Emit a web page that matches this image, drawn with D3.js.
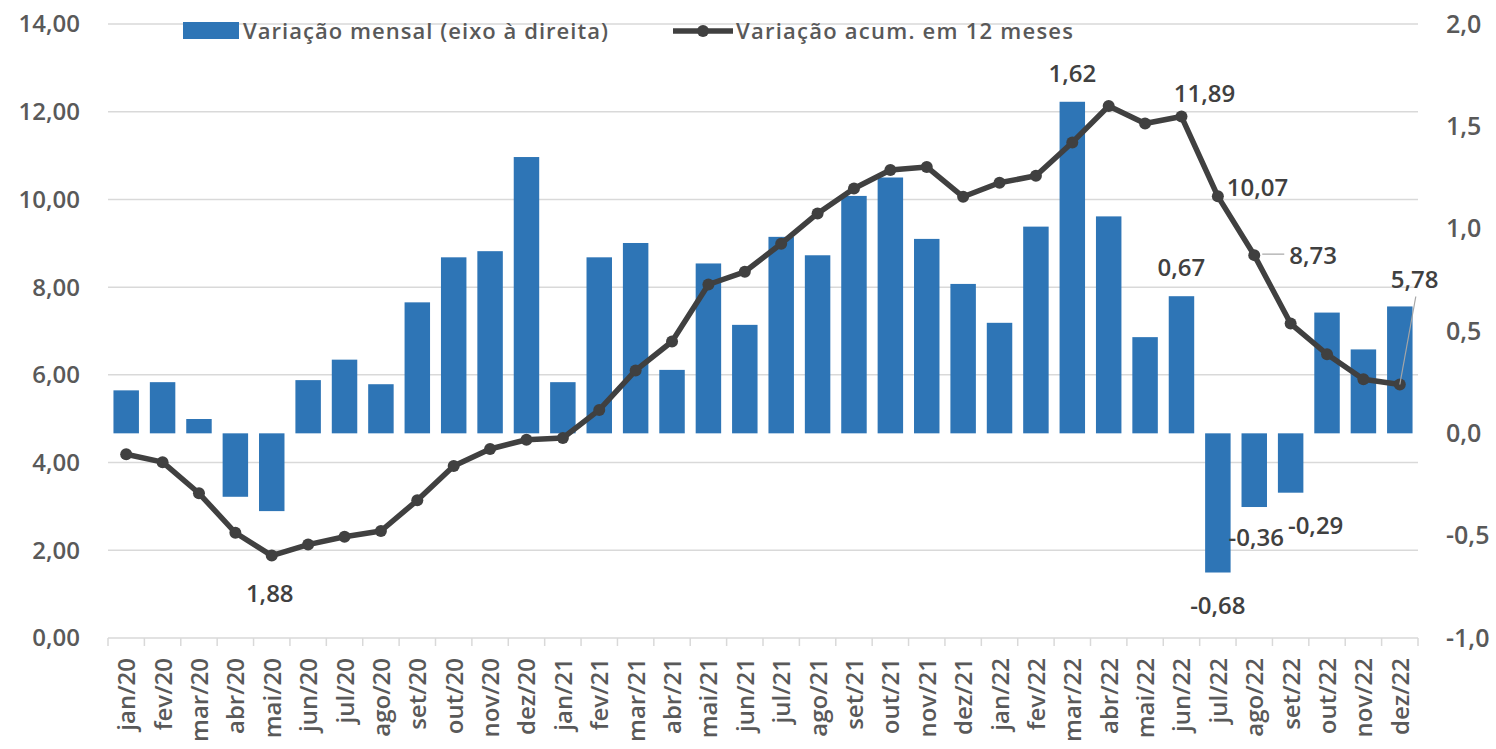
<!DOCTYPE html>
<html>
<head>
<meta charset="utf-8">
<script src="https://cdn.jsdelivr.net/npm/d3@7"></script>
<style>
  body { margin: 0; background: #fff; }
  svg text { font-family: "Open Sans", "Noto Sans", sans-serif; }
</style>
</head>
<body>
<svg id="chart" width="1496" height="749"></svg>
<script>
// months on the x axis
var months = ["jan/20","fev/20","mar/20","abr/20","mai/20","jun/20","jul/20","ago/20","set/20","out/20","nov/20","dez/20",
              "jan/21","fev/21","mar/21","abr/21","mai/21","jun/21","jul/21","ago/21","set/21","out/21","nov/21","dez/21",
              "jan/22","fev/22","mar/22","abr/22","mai/22","jun/22","jul/22","ago/22","set/22","out/22","nov/22","dez/22"];
// monthly change (right axis)
var mensal = [0.21,0.25,0.07,-0.31,-0.38,0.26,0.36,0.24,0.64,0.86,0.89,1.35,
              0.25,0.86,0.93,0.31,0.83,0.53,0.96,0.87,1.16,1.25,0.95,0.73,
              0.54,1.01,1.62,1.06,0.47,0.67,-0.68,-0.36,-0.29,0.59,0.41,0.62];
// 12 month accumulated change (left axis)
var acum12 = [4.19,4.01,3.30,2.40,1.88,2.13,2.31,2.44,3.14,3.92,4.31,4.52,
              4.56,5.20,6.10,6.76,8.06,8.35,8.99,9.68,10.25,10.67,10.74,10.06,
              10.38,10.54,11.30,12.13,11.73,11.89,10.07,8.73,7.17,6.47,5.90,5.78];
var leftTicks = [0,2,4,6,8,10,12,14];
var rightTicks = [-1,-0.5,0,0.5,1,1.5,2];
var seriesNames = ["Variação mensal (eixo à direita)", "Variação acum. em 12 meses"];

var fmt2 = function(v){ return v.toFixed(2).replace(".", ","); };
var fmt1 = function(v){ return v.toFixed(1).replace(".", ","); };

var svg = d3.select("#chart");
var x0 = 108, x1 = 1418, yTop = 24, yBot = 638;
var barBlue = "#2E75B6", lineGray = "#404040", axisText = "#595959";
var fs = 24;

var x = d3.scaleBand().domain(months).range([x0, x1]).paddingInner(0.3).paddingOuter(0.15);
var xc = function(m){ return x(m) + x.bandwidth() / 2; };
var yL = d3.scaleLinear().domain([0, 14]).range([yBot, yTop]);
var yR = d3.scaleLinear().domain([-1, 2]).range([yBot, yTop]);

// gridlines
svg.append("g").selectAll("line").data(leftTicks).enter().append("line")
  .attr("x1", x0).attr("x2", x1)
  .attr("y1", function(d){ return yL(d); }).attr("y2", function(d){ return yL(d); })
  .attr("stroke", "#d9d9d9").attr("stroke-width", 1.5);

// left axis labels
svg.append("g").selectAll("text").data(leftTicks).enter().append("text")
  .attr("x", 80).attr("y", function(d){ return yL(d); }).attr("dy", "0.35em")
  .attr("text-anchor", "end").attr("font-size", fs).attr("font-weight", 600)
  .attr("fill", axisText).text(fmt2);

// right axis labels
svg.append("g").selectAll("text").data(rightTicks).enter().append("text")
  .attr("x", 1446).attr("y", function(d){ return yR(d); }).attr("dy", "0.35em")
  .attr("text-anchor", "start").attr("font-size", fs + 1).attr("font-weight", 600)
  .attr("fill", axisText).text(fmt1);

// bars
svg.append("g").selectAll("rect").data(months).enter().append("rect")
  .attr("x", function(d){ return x(d); })
  .attr("width", x.bandwidth())
  .attr("y", function(d, i){ return Math.min(yR(mensal[i]), yR(0)); })
  .attr("height", function(d, i){ return Math.abs(yR(mensal[i]) - yR(0)); })
  .attr("fill", barBlue);

// x axis ticks and labels
var step = x.step();
svg.append("g").selectAll("line").data(d3.range(months.length + 1)).enter().append("line")
  .attr("x1", function(i){ return x0 + i * step; }).attr("x2", function(i){ return x0 + i * step; })
  .attr("y1", yBot).attr("y2", yBot + 8)
  .attr("stroke", "#d9d9d9").attr("stroke-width", 1.5);

svg.append("g").selectAll("text").data(months).enter().append("text")
  .attr("transform", function(d){ return "translate(" + (xc(d) + 9) + "," + 658 + ") rotate(-90)"; })
  .attr("text-anchor", "end").attr("font-size", fs).attr("font-weight", 600)
  .attr("fill", axisText).text(function(d){ return d; });

// line
var line = d3.line().x(function(d, i){ return xc(months[i]); }).y(function(d){ return yL(d); });
svg.append("path").datum(acum12)
  .attr("d", line).attr("fill", "none")
  .attr("stroke", lineGray).attr("stroke-width", 5.5).attr("stroke-linejoin", "round");
svg.append("g").selectAll("circle").data(acum12).enter().append("circle")
  .attr("cx", function(d, i){ return xc(months[i]); })
  .attr("cy", function(d){ return yL(d); })
  .attr("r", 6).attr("fill", lineGray);

// data labels
var labelStyle = function(sel){
  return sel.attr("font-size", fs).attr("font-weight", 600).attr("fill", lineGray);
};
var barLabels = [
  { i: 26, dx: 0, dy: -20, anchor: "middle" },
  { i: 29, dx: 0, dy: -20, anchor: "middle" },
  { i: 30, dx: 0, dy: 41, anchor: "middle" },
  { i: 31, dx: 2, dy: 39, anchor: "middle" },
  { i: 32, dx: 25, dy: 41, anchor: "middle" }
];
barLabels.forEach(function(b){
  var m = months[b.i];
  labelStyle(svg.append("text"))
    .attr("x", xc(m) + b.dx).attr("y", yR(mensal[b.i]) + b.dy)
    .attr("text-anchor", b.anchor).text(fmt2(mensal[b.i]));
});

var lineLabels = [
  { i: 4, dx: -2, dy: 46, anchor: "middle" },
  { i: 29, dx: 23, dy: -15, anchor: "middle" },
  { i: 30, dx: 9, dy: 0, anchor: "start" },
  { i: 31, dx: 35, dy: 9, anchor: "start", lead: [[8, -1], [30, -1]] },
  { i: 35, dx: -9, dy: -97, anchor: "start", lead: [[0, 0], [16, -88]] }
];
lineLabels.forEach(function(b){
  var cx = xc(months[b.i]), cy = yL(acum12[b.i]);
  if (b.lead) {
    svg.append("line")
      .attr("x1", cx + b.lead[0][0]).attr("y1", cy + b.lead[0][1])
      .attr("x2", cx + b.lead[1][0]).attr("y2", cy + b.lead[1][1])
      .attr("stroke", "#a6a6a6").attr("stroke-width", 1.2);
  }
  labelStyle(svg.append("text"))
    .attr("x", cx + b.dx).attr("y", cy + b.dy)
    .attr("text-anchor", b.anchor).text(fmt2(acum12[b.i]));
});

// legend
var lg = svg.append("g");
lg.append("rect").attr("x", 183).attr("y", 22).attr("width", 56).attr("height", 17).attr("fill", barBlue);
lg.append("text").attr("x", 243).attr("y", 39).attr("font-size", 22).attr("font-weight", 600)
  .attr("fill", axisText).attr("textLength", 365).text(seriesNames[0]);
lg.append("line").attr("x1", 673).attr("x2", 733).attr("y1", 31).attr("y2", 31)
  .attr("stroke", lineGray).attr("stroke-width", 5.5);
lg.append("circle").attr("cx", 703).attr("cy", 31).attr("r", 6).attr("fill", lineGray);
lg.append("text").attr("x", 736).attr("y", 39).attr("font-size", 22).attr("font-weight", 600)
  .attr("fill", axisText).attr("textLength", 337).text(seriesNames[1]);
</script>
</body>
</html>
